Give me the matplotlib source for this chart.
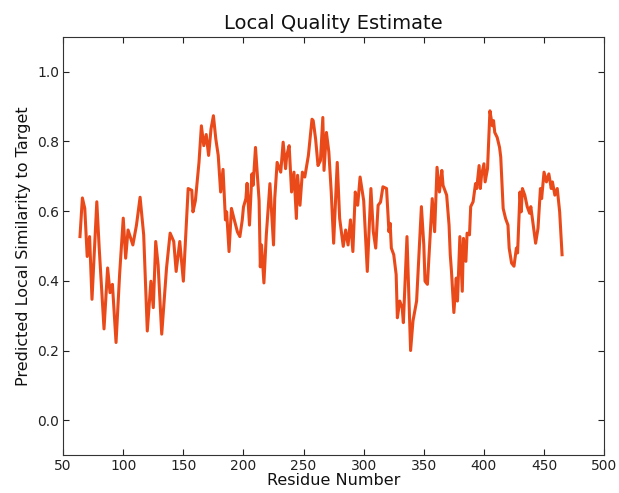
import matplotlib
matplotlib.use("Agg")
import matplotlib.pyplot as plt

# per-residue local quality scores
residues = [64, 66, 68, 70, 72, 74, 78, 80, 84, 87, 89, 91, 94, 97, 100, 102, 104, 108,
            111, 114, 117, 120, 123, 125, 127, 129, 132, 136, 139, 142, 144, 147, 150,
            154, 157, 158, 160, 163, 165, 167, 169, 171, 173, 175, 177, 179, 181, 183,
            185, 186, 188, 190, 192, 195, 197, 199, 200, 202, 203, 205, 207, 208, 210,
            213, 214, 215, 217, 219, 222, 225, 226, 228, 231, 233, 235, 236, 238, 240,
            242, 244, 245, 247, 249, 251, 254, 257, 258, 260, 262, 264, 266, 267, 269,
            271, 273, 275, 278, 280, 283, 285, 287, 289, 291, 293, 295, 297, 300, 303,
            306, 308, 310, 312, 314, 316, 319, 321, 322, 323, 325, 327, 328, 330, 332,
            333, 336, 339, 341, 344, 348, 350, 351, 353, 357, 359, 361, 363, 365, 366,
            369, 371, 372, 373, 375, 377, 378, 380, 382, 383, 385, 386, 388, 389, 391,
            393, 394, 396, 397, 398, 400, 401, 403, 405, 407, 408, 409, 411, 413, 414,
            416, 418, 420, 421, 423, 425, 427, 428, 430, 431, 432, 434, 436, 438, 439,
            441, 443, 445, 447, 448, 450, 452, 454, 456, 457, 459, 461, 463, 465]
scores = [0.527, 0.638, 0.608, 0.47, 0.527, 0.347, 0.627, 0.494, 0.262, 0.437, 0.366,
          0.39, 0.223, 0.42, 0.58, 0.465, 0.546, 0.503, 0.56, 0.64, 0.532, 0.256, 0.399,
          0.323, 0.513, 0.446, 0.247, 0.437, 0.537, 0.513, 0.427, 0.513, 0.399, 0.665,
          0.66, 0.598, 0.63, 0.74, 0.845, 0.788, 0.82, 0.76, 0.836, 0.874, 0.807, 0.76,
          0.655, 0.72, 0.575, 0.598, 0.484, 0.608, 0.58, 0.54, 0.527, 0.575, 0.612,
          0.636, 0.68, 0.56, 0.707, 0.674, 0.783, 0.63, 0.44, 0.503, 0.394, 0.532, 0.679,
          0.503, 0.636, 0.74, 0.712, 0.798, 0.722, 0.76, 0.788, 0.655, 0.712, 0.579,
          0.703, 0.617, 0.712, 0.698, 0.76, 0.864, 0.86, 0.807, 0.731, 0.745, 0.869,
          0.717, 0.826, 0.77, 0.655, 0.508, 0.74, 0.579, 0.499, 0.546, 0.503, 0.575,
          0.484, 0.655, 0.617, 0.698, 0.63, 0.427, 0.665, 0.541, 0.494, 0.617, 0.626,
          0.67, 0.665, 0.541, 0.565, 0.494, 0.475, 0.418, 0.294, 0.342, 0.323, 0.28,
          0.527, 0.2, 0.285, 0.342, 0.613, 0.503, 0.399, 0.39, 0.636, 0.541, 0.726,
          0.655, 0.717, 0.674, 0.646, 0.56, 0.475, 0.428, 0.309, 0.408, 0.342, 0.527,
          0.37, 0.522, 0.456, 0.537, 0.532, 0.613, 0.627, 0.679, 0.665, 0.731, 0.665,
          0.703, 0.736, 0.684, 0.722, 0.888, 0.845, 0.86, 0.826, 0.812, 0.783, 0.755,
          0.608, 0.579, 0.56, 0.494, 0.451, 0.442, 0.494, 0.48, 0.655, 0.598, 0.665,
          0.646, 0.613, 0.594, 0.613, 0.56, 0.508, 0.551, 0.665, 0.636, 0.712, 0.684,
          0.707, 0.665, 0.684, 0.646, 0.665, 0.598, 0.475]

x_ticks = [50, 100, 150, 200, 250, 300, 350, 400, 450, 500]
y_ticks = [0.0, 0.2, 0.4, 0.6, 0.8, 1.0]

fig = plt.figure(figsize=(6.19, 4.93), dpi=100)
ax = fig.add_axes([0.102, 0.077, 0.874, 0.848])
ax.plot(residues, scores, color='#ea4a1a', linewidth=2.2)

ax.set_xlim(50, 500)
ax.set_ylim(-0.1, 1.1)
ax.set_xticks(x_ticks)
ax.set_yticks(y_ticks)
ax.tick_params(direction='in', top=True, right=True, labelsize=10,
               colors='#222222', length=4, pad=3)
for s in ax.spines.values():
    s.set_color('#333333')

ax.set_title('Local Quality Estimate', fontsize=14, color='#111111')
ax.set_xlabel('Residue Number', fontsize=11.5, color='#111111', labelpad=0)
ax.set_ylabel('Predicted Local Similarity to Target', fontsize=11.5, color='#111111')

fig.savefig('out.png', dpi=100)
